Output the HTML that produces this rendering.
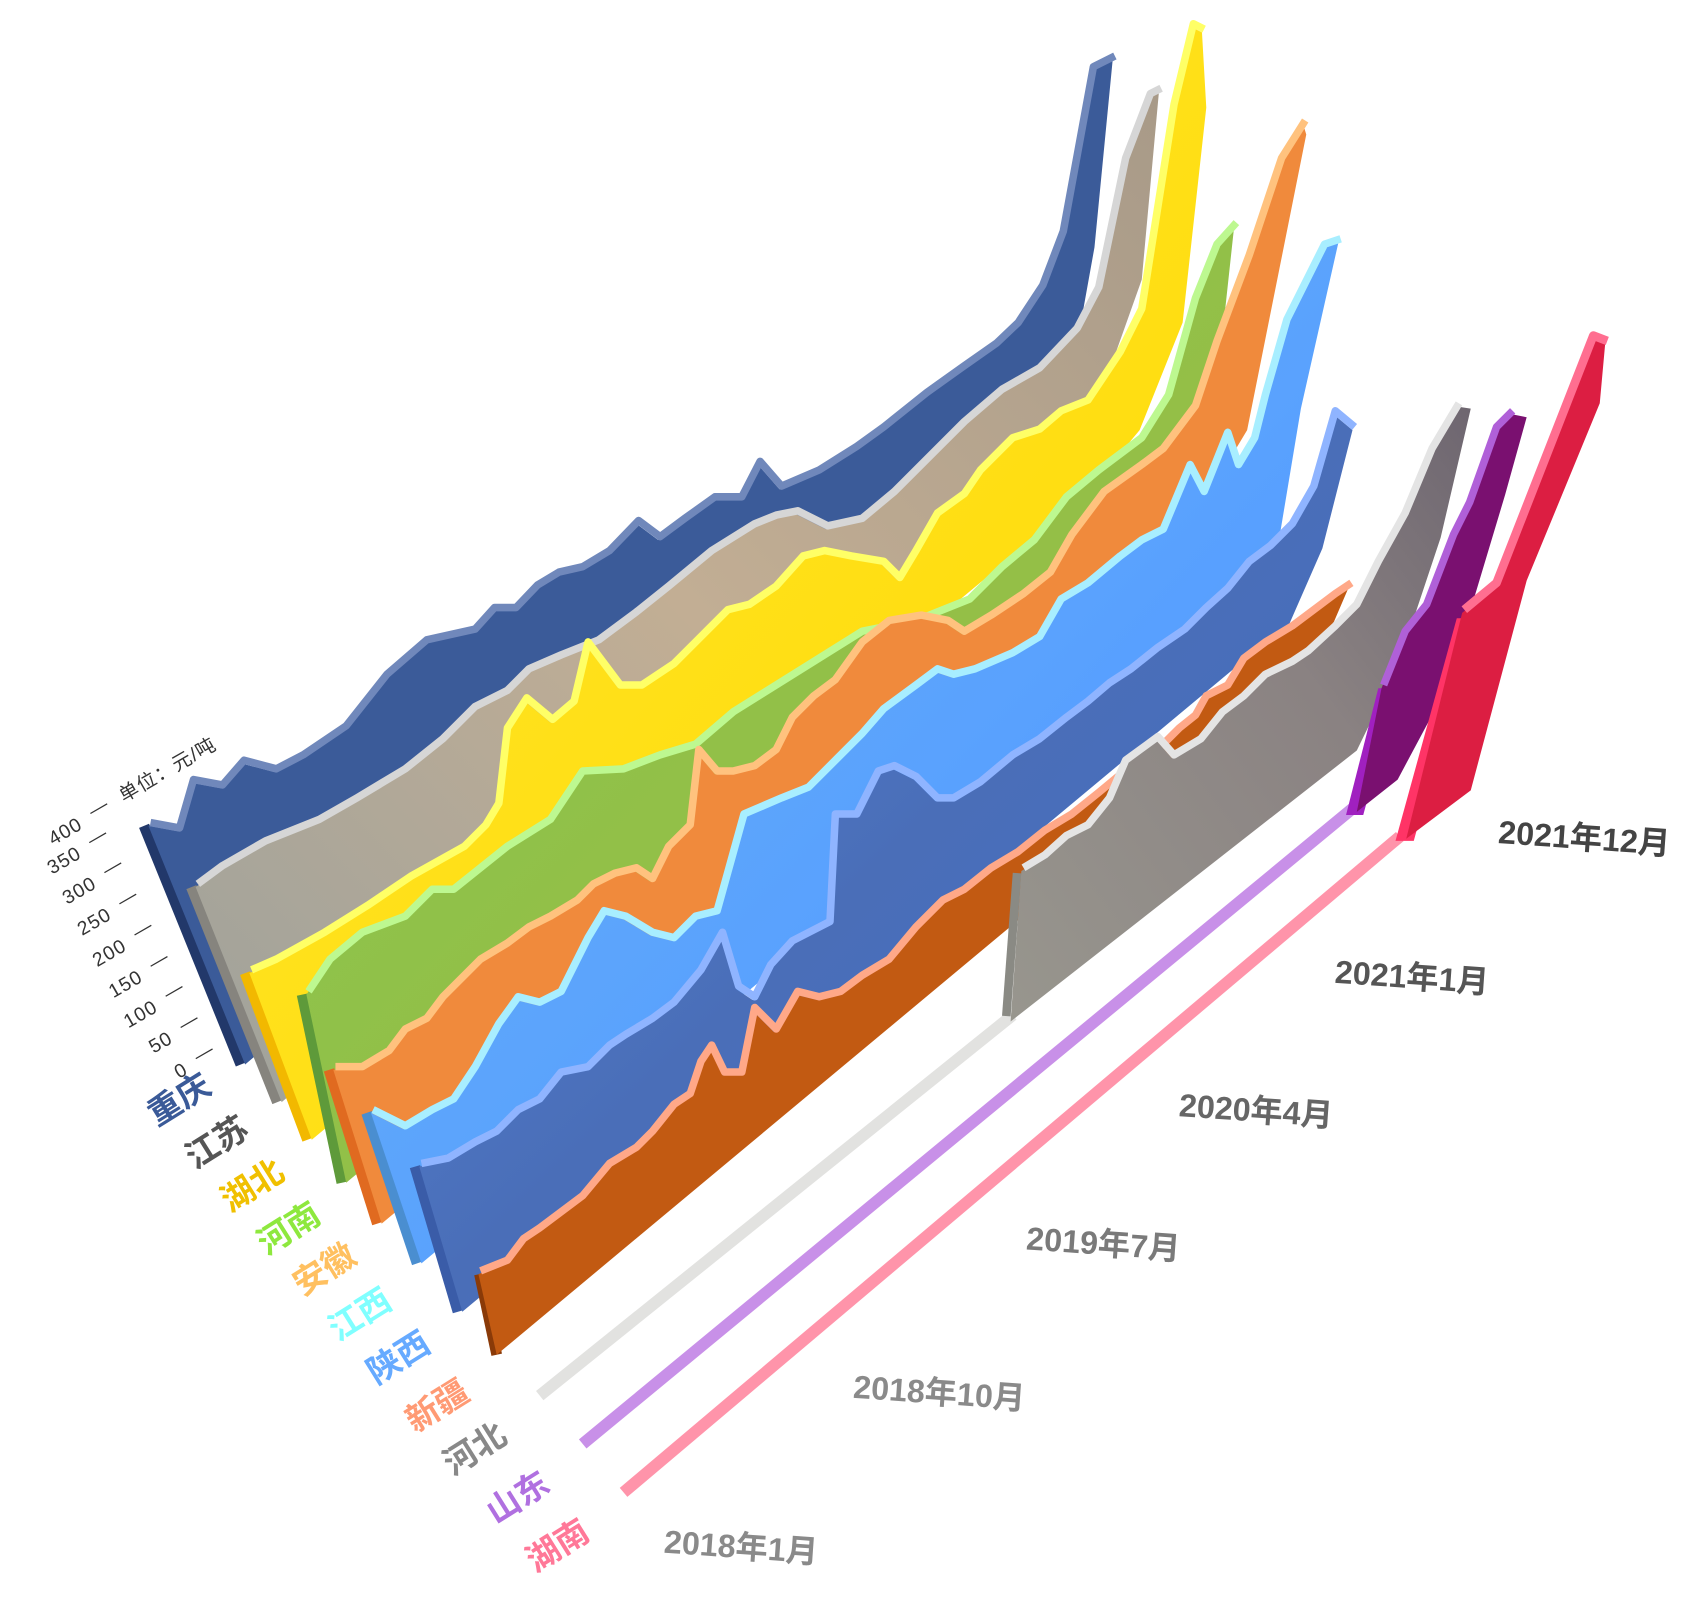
<!DOCTYPE html>
<html><head><meta charset="utf-8"><style>html,body{margin:0;padding:0;background:#fff}svg{display:block}</style></head><body>
<svg width="1689" height="1600" viewBox="0 0 1571 1488" xmlns="http://www.w3.org/2000/svg" font-family="Liberation Sans, Noto Sans CJK SC, sans-serif">
<defs>
<linearGradient id="gJS" x1="0" y1="1" x2="1" y2="0"><stop offset="0" stop-color="#9fa29c"/><stop offset="0.5" stop-color="#c2ae94"/><stop offset="1" stop-color="#a89a88"/></linearGradient>
<linearGradient id="gHB" x1="0" y1="0" x2="1" y2="1"><stop offset="0" stop-color="#ffe830"/><stop offset="1" stop-color="#ffd800"/></linearGradient>
<linearGradient id="gHN" x1="0" y1="0" x2="1" y2="1"><stop offset="0" stop-color="#84c850"/><stop offset="1" stop-color="#a0b840"/></linearGradient>
<linearGradient id="gJX" x1="0" y1="0" x2="1" y2="1"><stop offset="0" stop-color="#6ab4f0"/><stop offset="0.6" stop-color="#58a0ff"/><stop offset="1" stop-color="#5a98e0"/></linearGradient>
<linearGradient id="gSX" x1="0" y1="0" x2="1" y2="1"><stop offset="0" stop-color="#5588dd"/><stop offset="0.5" stop-color="#4a6eb8"/><stop offset="1" stop-color="#4070c8"/></linearGradient>
<linearGradient id="gHEB" x1="0" y1="1" x2="1" y2="0"><stop offset="0" stop-color="#98968e"/><stop offset="0.6" stop-color="#8a8282"/><stop offset="1" stop-color="#6e6670"/></linearGradient>
</defs>
<g stroke-linejoin="round">
<line x1="134" y1="768" x2="224" y2="990" stroke="#22386a" stroke-width="10"/>
<polygon fill="#3b5b99" points="138,768 165,773 178,728 205,733 225,710 255,718 280,705 320,678 358,630 395,598 440,588 458,568 478,568 498,547 518,535 540,530 565,515 592,487 612,502 635,485 663,465 688,465 705,432 725,455 760,440 795,418 820,400 860,368 895,343 925,322 945,303 968,268 987,218 1015,65 1035,55 1018,230 1000,330 950,380 228,990"/>
<polyline fill="none" stroke="#7088bb" stroke-width="7" transform="translate(2,-3)" points="138,768 165,773 178,728 205,733 225,710 255,718 280,705 320,678 358,630 395,598 440,588 458,568 478,568 498,547 518,535 540,530 565,515 592,487 612,502 635,485 663,465 688,465 705,432 725,455 760,440 795,418 820,400 860,368 895,343 925,322 945,303 968,268 987,218 1015,65 1035,55"/>
<line x1="178" y1="825" x2="258" y2="1025" stroke="#86847e" stroke-width="10"/>
<polygon fill="url(#gJS)" points="182,825 205,808 245,785 295,765 330,745 375,718 410,690 440,660 470,645 490,625 520,612 555,598 590,572 620,548 660,515 700,490 720,482 740,478 768,492 800,485 830,460 860,430 895,395 930,365 965,345 1000,308 1020,270 1045,150 1068,90 1078,85 1062,260 1030,350 985,415 262,1025"/>
<polyline fill="none" stroke="#d6d6d6" stroke-width="7" transform="translate(2,-3)" points="182,825 205,808 245,785 295,765 330,745 375,718 410,690 440,660 470,645 490,625 520,612 555,598 590,572 620,548 660,515 700,490 720,482 740,478 768,492 800,485 830,460 860,430 895,395 930,365 965,345 1000,308 1020,270 1045,150 1068,90 1078,85"/>
<line x1="228" y1="905" x2="286" y2="1060" stroke="#f2b800" stroke-width="10"/>
<polygon fill="url(#gHB)" points="232,905 255,895 300,870 340,845 380,818 430,790 450,770 462,750 470,680 488,652 512,672 532,655 545,600 560,620 575,640 595,640 625,620 655,590 675,570 695,565 720,548 745,520 765,515 790,520 820,525 835,540 850,515 870,480 895,462 910,440 940,410 965,402 985,385 1010,375 1040,330 1060,290 1090,100 1108,25 1118,30 1122,100 1100,300 1060,400 1010,460 290,1060"/>
<polyline fill="none" stroke="#ffff66" stroke-width="7" transform="translate(2,-3)" points="232,905 255,895 300,870 340,845 380,818 430,790 450,770 462,750 470,680 488,652 512,672 532,655 545,600 560,620 575,640 595,640 625,620 655,590 675,570 695,565 720,548 745,520 765,515 790,520 820,525 835,540 850,515 870,480 895,462 910,440 940,410 965,402 985,385 1010,375 1040,330 1060,290 1090,100 1108,25 1118,30"/>
<line x1="281" y1="925" x2="318" y2="1100" stroke="#5e9a3a" stroke-width="10"/>
<polygon fill="url(#gHN)" points="285,925 305,895 335,870 375,855 400,830 420,830 445,810 470,790 510,765 540,720 578,718 612,705 645,695 680,665 720,640 760,615 800,590 850,580 900,560 930,530 960,505 990,465 1020,440 1060,410 1085,370 1110,280 1130,230 1148,210 1135,330 1100,420 1042,500 322,1100"/>
<polyline fill="none" stroke="#bdf890" stroke-width="7" transform="translate(2,-3)" points="285,925 305,895 335,870 375,855 400,830 420,830 445,810 470,790 510,765 540,720 578,718 612,705 645,695 680,665 720,640 760,615 800,590 850,580 900,560 930,530 960,505 990,465 1020,440 1060,410 1085,370 1110,280 1130,230 1148,210"/>
<line x1="306" y1="995" x2="351" y2="1138" stroke="#e06a20" stroke-width="10"/>
<polygon fill="#f08a3c" points="310,995 335,995 360,980 375,960 395,950 410,930 430,910 445,895 470,880 490,865 510,855 535,840 550,825 570,815 590,810 605,820 620,790 640,770 648,700 665,720 680,720 700,715 720,700 735,670 755,650 775,635 800,600 825,580 855,575 880,580 895,590 920,575 950,555 975,535 995,500 1025,460 1060,435 1080,420 1110,380 1130,320 1160,240 1190,150 1212,115 1215,125 1190,250 1160,400 1100,500 1075,538 355,1138"/>
<polyline fill="none" stroke="#ffc27e" stroke-width="7" transform="translate(2,-3)" points="310,995 335,995 360,980 375,960 395,950 410,930 430,910 445,895 470,880 490,865 510,855 535,840 550,825 570,815 590,810 605,820 620,790 640,770 648,700 665,720 680,720 700,715 720,700 735,670 755,650 775,635 800,600 825,580 855,575 880,580 895,590 920,575 950,555 975,535 995,500 1025,460 1060,435 1080,420 1110,380 1130,320 1160,240 1190,150 1212,115"/>
<line x1="341" y1="1035" x2="388" y2="1175" stroke="#4a8ed0" stroke-width="10"/>
<polygon fill="url(#gJX)" points="345,1035 375,1050 400,1035 420,1025 440,995 462,955 480,930 500,935 520,925 545,875 560,850 580,855 605,870 625,875 645,855 665,850 690,760 725,745 750,735 785,700 800,685 820,662 850,640 870,625 885,630 905,625 940,610 965,595 985,560 1010,545 1040,520 1060,505 1080,495 1105,435 1118,460 1140,405 1150,435 1165,410 1175,370 1195,300 1230,230 1245,225 1210,380 1190,500 1150,560 1112,575 392,1175"/>
<polyline fill="none" stroke="#a8eeff" stroke-width="7" transform="translate(2,-3)" points="345,1035 375,1050 400,1035 420,1025 440,995 462,955 480,930 500,935 520,925 545,875 560,850 580,855 605,870 625,875 645,855 665,850 690,760 725,745 750,735 785,700 800,685 820,662 850,640 870,625 885,630 905,625 940,610 965,595 985,560 1010,545 1040,520 1060,505 1080,495 1105,435 1118,460 1140,405 1150,435 1165,410 1175,370 1195,300 1230,230 1245,225"/>
<line x1="386" y1="1085" x2="426" y2="1220" stroke="#3a5ca8" stroke-width="10"/>
<polygon fill="url(#gSX)" points="390,1085 415,1080 440,1065 460,1055 480,1035 500,1025 520,1000 545,995 565,975 580,965 605,950 625,935 650,905 670,870 685,920 700,930 715,900 735,878 770,860 775,760 795,760 815,720 830,715 850,725 870,745 885,745 910,730 940,705 965,690 990,670 1010,655 1030,638 1050,625 1075,605 1100,588 1120,568 1140,550 1160,525 1180,510 1200,490 1220,455 1240,385 1258,400 1230,510 1195,590 1150,620 430,1220"/>
<polyline fill="none" stroke="#8fb4ff" stroke-width="7" transform="translate(2,-3)" points="390,1085 415,1080 440,1065 460,1055 480,1035 500,1025 520,1000 545,995 565,975 580,965 605,950 625,935 650,905 670,870 685,920 700,930 715,900 735,878 770,860 775,760 795,760 815,720 830,715 850,725 870,745 885,745 910,730 940,705 965,690 990,670 1010,655 1030,638 1050,625 1075,605 1100,588 1120,568 1140,550 1160,525 1180,510 1200,490 1220,455 1240,385 1258,400"/>
<line x1="446" y1="1185" x2="462" y2="1260" stroke="#8a3a08" stroke-width="10"/>
<polygon fill="#c25a12" points="445,1185 470,1175 485,1155 500,1145 520,1130 540,1115 565,1085 590,1070 605,1055 625,1030 640,1020 650,990 660,975 672,1000 688,1000 700,940 720,960 740,925 760,930 780,925 800,910 825,895 850,865 875,840 895,830 920,810 945,795 970,775 995,760 1020,740 1050,715 1075,700 1095,680 1110,668 1120,650 1140,640 1155,615 1175,600 1200,585 1220,570 1240,555 1255,545 1240,580 1182,660 462,1260"/>
<polyline fill="none" stroke="#ffa888" stroke-width="7" transform="translate(2,-3)" points="445,1185 470,1175 485,1155 500,1145 520,1130 540,1115 565,1085 590,1070 605,1055 625,1030 640,1020 650,990 660,975 672,1000 688,1000 700,940 720,960 740,925 760,930 780,925 800,910 825,895 850,865 875,840 895,830 920,810 945,795 970,775 995,760 1020,740 1050,715 1075,700 1095,680 1110,668 1120,650 1140,640 1155,615 1175,600 1200,585 1220,570 1240,555 1255,545"/>
<line x1="502" y1="1298" x2="942" y2="944" stroke="#e2e2e0" stroke-width="11" stroke-linecap="butt"/>
<line x1="936" y1="945" x2="946" y2="812" stroke="#8a8a84" stroke-width="8"/>
<polygon fill="url(#gHEB)" points="940,950 950,810 970,798 990,780 1010,770 1030,745 1045,710 1075,688 1090,705 1115,690 1135,665 1155,650 1175,630 1200,618 1215,608 1240,585 1260,565 1280,525 1305,480 1330,420 1355,378 1368,380 1340,500 1300,620 1262,698"/>
<polyline fill="none" stroke="#e4e4e4" stroke-width="7" transform="translate(2,-3)" points="950,810 970,798 990,780 1010,770 1030,745 1045,710 1075,688 1090,705 1115,690 1135,665 1155,650 1175,630 1200,618 1215,608 1240,585 1260,565 1280,525 1305,480 1330,420 1355,378"/>
<line x1="542" y1="1343" x2="1258" y2="752" stroke="#c890e8" stroke-width="11"/>
<polygon fill="#a020c0" points="1252,758 1282,640 1300,640 1268,758"/>
<polygon fill="#7a1070" points="1262,755 1285,640 1305,590 1325,565 1350,500 1365,470 1390,400 1405,385 1420,388 1400,460 1370,560 1340,650 1300,725"/>
<polyline fill="none" stroke="#b060d8" stroke-width="7" transform="translate(2,-3)" points="1285,640 1305,590 1325,565 1350,500 1365,470 1390,400 1405,385"/>
<line x1="580" y1="1388" x2="1302" y2="778" stroke="#ff94aa" stroke-width="11"/>
<polygon fill="#ff3466" points="1298,782 1355,575 1372,575 1315,782"/>
<polygon fill="#dc1e42" points="1308,780 1360,570 1390,545 1480,315 1493,320 1488,375 1420,540 1368,735"/>
<polyline fill="none" stroke="#ff6e90" stroke-width="8" transform="translate(2,-3)" points="1360,570 1390,545 1480,315 1493,320"/>
</g>
<g font-size="18" fill="#333" letter-spacing="1">
<g transform="translate(176,998) rotate(-30)"><text text-anchor="end">0</text><text x="12" y="-4">—</text></g>
<g transform="translate(162,969) rotate(-30)"><text text-anchor="end">50</text><text x="12" y="-4">—</text></g>
<g transform="translate(148,940) rotate(-30)"><text text-anchor="end">100</text><text x="12" y="-4">—</text></g>
<g transform="translate(134,912) rotate(-30)"><text text-anchor="end">150</text><text x="12" y="-4">—</text></g>
<g transform="translate(119,883) rotate(-30)"><text text-anchor="end">200</text><text x="12" y="-4">—</text></g>
<g transform="translate(105,854) rotate(-30)"><text text-anchor="end">250</text><text x="12" y="-4">—</text></g>
<g transform="translate(91,825) rotate(-30)"><text text-anchor="end">300</text><text x="12" y="-4">—</text></g>
<g transform="translate(77,797) rotate(-30)"><text text-anchor="end">350</text><text x="12" y="-4">—</text></g>
<g transform="translate(78,770) rotate(-30)"><text text-anchor="end">400</text><text x="12" y="-4">—</text><text x="44" y="-2">单位：元/吨</text></g>
</g>
<g font-size="31" font-weight="bold">
<text transform="translate(146,1048) rotate(-32)" fill="#3a5a98">重庆</text>
<text transform="translate(181,1088) rotate(-32)" fill="#555">江苏</text>
<text transform="translate(214,1128) rotate(-32)" fill="#f0c000">湖北</text>
<text transform="translate(248,1168) rotate(-32)" fill="#8ee83e">河南</text>
<text transform="translate(281,1206) rotate(-32)" fill="#ffc060">安徽</text>
<text transform="translate(314,1248) rotate(-32)" fill="#80ffff">江西</text>
<text transform="translate(350,1288) rotate(-32)" fill="#66aaff">陕西</text>
<text transform="translate(386,1333) rotate(-32)" fill="#ff9a74">新疆</text>
<text transform="translate(421,1373) rotate(-32)" fill="#888">河北</text>
<text transform="translate(461,1418) rotate(-32)" fill="#b070e0">山东</text>
<text transform="translate(498,1463) rotate(-32)" fill="#ff7898">湖南</text>
</g>
<g font-size="30" font-weight="bold">
<text transform="translate(617,1444) rotate(4)" fill="#8a8a8a">2018年1月</text>
<text transform="translate(793,1300) rotate(4)" fill="#8a8a8a">2018年10月</text>
<text transform="translate(954,1162) rotate(4)" fill="#7a7a7a">2019年7月</text>
<text transform="translate(1096,1038) rotate(4)" fill="#666">2020年4月</text>
<text transform="translate(1241,914) rotate(4)" fill="#555">2021年1月</text>
<text transform="translate(1393,784) rotate(4)" fill="#444">2021年12月</text>
</g>
</svg>
</body></html>
